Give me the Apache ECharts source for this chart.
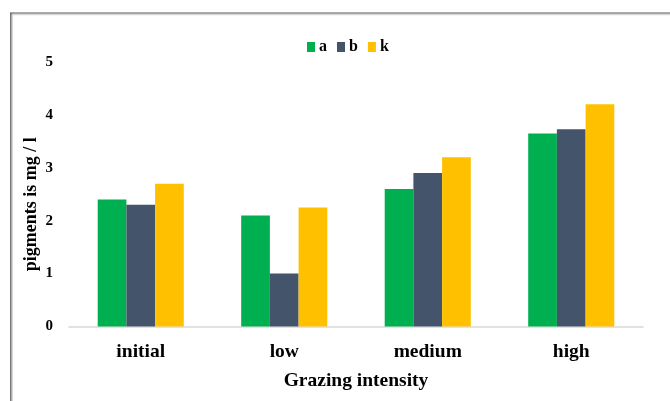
<!DOCTYPE html>
<html>
<head>
<meta charset="utf-8">
<script src="https://cdn.jsdelivr.net/npm/echarts@6/dist/echarts.min.js"></script>
<style>
  html, body { margin: 0; padding: 0; background: #fff; }
  #chart { width: 670px; height: 401px; }
</style>
</head>
<body>
<div id="chart"></div>
<script>
// Grazing intensity levels and pigment concentrations (mg / l)
const categories = ['initial', 'low', 'medium', 'high'];
const seriesNames = ['a', 'b', 'k'];
const valuesA = [2.4, 2.1, 2.6, 3.65];
const valuesB = [2.3, 1.0, 2.9, 3.73];
const valuesK = [2.7, 2.25, 3.2, 4.2];
const yTicks = [0, 1, 2, 3, 4, 5];

const colors = ['#00B050', '#44546A', '#FFC000'];
const serif = '"Liberation Serif", "Times New Roman", serif';

const chart = echarts.init(document.getElementById('chart'), null, { renderer: 'canvas' });

function barSeries(name, data, color) {
  return {
    name: name,
    type: 'bar',
    data: data,
    barGap: '0%',
    barCategoryGap: '40%',
    itemStyle: { color: color },
    emphasis: { disabled: true }
  };
}

chart.setOption({
  animation: false,
  backgroundColor: '#ffffff',
  textStyle: { fontFamily: serif },
  legend: {
    data: seriesNames,
    left: 302,
    top: 34,
    itemWidth: 8,
    itemHeight: 10,
    itemGap: 10,
    icon: 'rect',
    textStyle: { fontFamily: serif, fontWeight: 'bold', fontSize: 16, color: '#000', padding: [0, 0, 0, -1] }
  },
  grid: { left: 69, right: 27, top: 62, bottom: 74.5 },
  xAxis: {
    type: 'category',
    data: categories,
    axisLine: { lineStyle: { color: '#d9d9d9', width: 1.5 } },
    axisTick: { show: false },
    axisLabel: {
      margin: 15,
      fontFamily: serif,
      fontWeight: 'bold',
      fontSize: 19.5,
      color: '#000'
    },
    name: 'Grazing intensity',
    nameLocation: 'middle',
    nameGap: 44,
    nameTextStyle: { fontFamily: serif, fontWeight: 'bold', fontSize: 19.5, color: '#000' }
  },
  yAxis: {
    type: 'value',
    min: yTicks[0],
    max: yTicks[yTicks.length - 1],
    interval: 1,
    axisLine: { show: false },
    axisTick: { show: false },
    splitLine: { show: false },
    axisLabel: {
      margin: 16,
      fontFamily: serif,
      fontWeight: 'bold',
      fontSize: 15,
      color: '#000'
    },
    name: 'pigments is mg / l',
    nameLocation: 'middle',
    nameRotate: 90,
    nameGap: 29,
    nameMoveOverlap: false,
    nameTextStyle: { fontFamily: serif, fontWeight: 'bold', fontSize: 18, color: '#000', padding: [0, 20, 0, 0] }
  },
  series: [
    barSeries(seriesNames[0], valuesA, colors[0]),
    barSeries(seriesNames[1], valuesB, colors[1]),
    barSeries(seriesNames[2], valuesK, colors[2])
  ],
  graphic: [
    // frame around the chart area
    { type: 'line', shape: { x1: 10, y1: 14.5, x2: 670, y2: 14.5 }, style: { stroke: '#d6d6d6', lineWidth: 1.5 }, silent: true },
    { type: 'line', shape: { x1: 12.3, y1: 13, x2: 12.3, y2: 401 }, style: { stroke: '#d6d6d6', lineWidth: 1.5 }, silent: true },
    { type: 'line', shape: { x1: 10, y1: 13, x2: 670, y2: 13 }, style: { stroke: '#555555', lineWidth: 1 }, silent: true },
    { type: 'line', shape: { x1: 10.8, y1: 13, x2: 10.8, y2: 401 }, style: { stroke: '#555555', lineWidth: 1.2 }, silent: true }
  ]
});
</script>
</body>
</html>
